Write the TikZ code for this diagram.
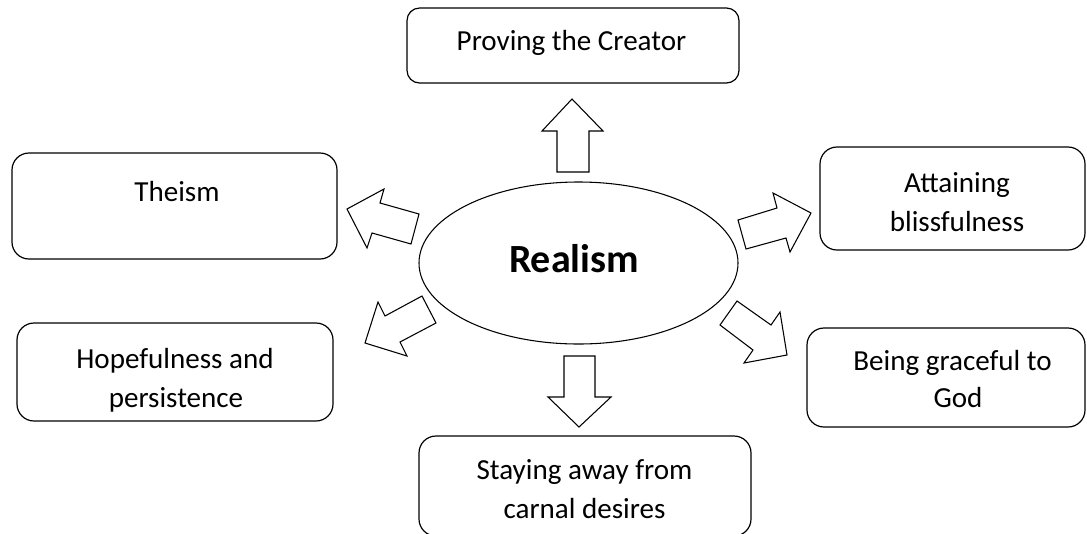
\documentclass[tikz,border=0pt]{standalone}
\usepackage{fontspec}
\setmainfont{Carlito}
\usetikzlibrary{shapes.geometric}
\begin{document}
\begin{tikzpicture}[x=0.75pt,y=-0.75pt,line join=miter,
  box/.style={draw,line width=0.9pt,rounded corners=12.75pt,inner sep=0pt,outer sep=0pt},
  lbl/.style={anchor=base,inner sep=0pt,font=\fontsize{21.8pt}{28.5pt}\selectfont},
  blockarrow/.style={draw,line width=0.8pt,fill=white}]
\useasboundingbox (0,0) rectangle (1087,533);
\begin{scope}
\clip (0,0) rectangle (1087,533);
% boxes
\node[box,rounded corners=9.4pt,minimum width=249pt,minimum height=56.25pt] (prov) at (573,45.5) {};
\node[box,minimum width=243.75pt,minimum height=79.5pt] (theism) at (174.5,206) {};
\node[box,minimum width=198.75pt,minimum height=77.25pt] (attain) at (952.5,198.5) {};
\node[box,minimum width=237pt,minimum height=73.5pt] (hope) at (175,372) {};
\node[box,minimum width=208.5pt,minimum height=74.25pt] (grace) at (946,377.5) {};
\node[box,minimum width=249pt,minimum height=75pt] (stay) at (585,486) {};
% centre ellipse
\node[ellipse,draw,line width=0.8pt,minimum width=239.25pt,minimum height=121.5pt,inner sep=0pt] (realism) at (578.5,263) {};
\node[anchor=base,inner sep=0pt,font=\fontsize{30pt}{36pt}\selectfont\bfseries] (realismtext) at (574,272) {Realism};
% texts
\node[lbl] (provt) at (571.5,50) {Proving the Creator};
\node[lbl] (theismt) at (177,201) {Theism};
\node[lbl] (attaint1) at (957,192) {Attaining};
\node[lbl] (attaint2) at (957,231) {blissfulness};
\node[lbl] (hopet1) at (175,368) {Hopefulness and};
\node[lbl] (hopet2) at (176,407) {persistence};
\node[lbl] (gracet1) at (952.5,370) {Being graceful to};
\node[lbl] (gracet2) at (958,407) {God};
\node[lbl] (stayt1) at (584.5,479) {Staying away from};
\node[lbl] (stayt2) at (584.5,518) {carnal desires};
% block arrows
\draw[blockarrow] (557,172) -- (557,131) -- (542,131) -- (572,99) -- (603,131) -- (589,131) -- (589,172) -- cycle;
\draw[blockarrow] (564,356) -- (595,356) -- (595,397) -- (611,397) -- (579,427) -- (548,397) -- (564,397) -- cycle;
\draw[blockarrow] (419,214) -- (380,203) -- (384,189) -- (347,209) -- (367,248) -- (372,233) -- (411,244) -- cycle;
\draw[blockarrow] (422,296) -- (385,316) -- (378,302) -- (365,343) -- (407,356) -- (400,342) -- (436,323) -- cycle;
\draw[blockarrow] (738,220) -- (777,208) -- (773,193) -- (811,213) -- (790,252) -- (786,238) -- (746,249) -- cycle;
\draw[blockarrow] (737,301) -- (771,325) -- (780,312) -- (787,355) -- (744,363) -- (753,350) -- (720,325) -- cycle;
\end{scope}
\end{tikzpicture}
\end{document}
